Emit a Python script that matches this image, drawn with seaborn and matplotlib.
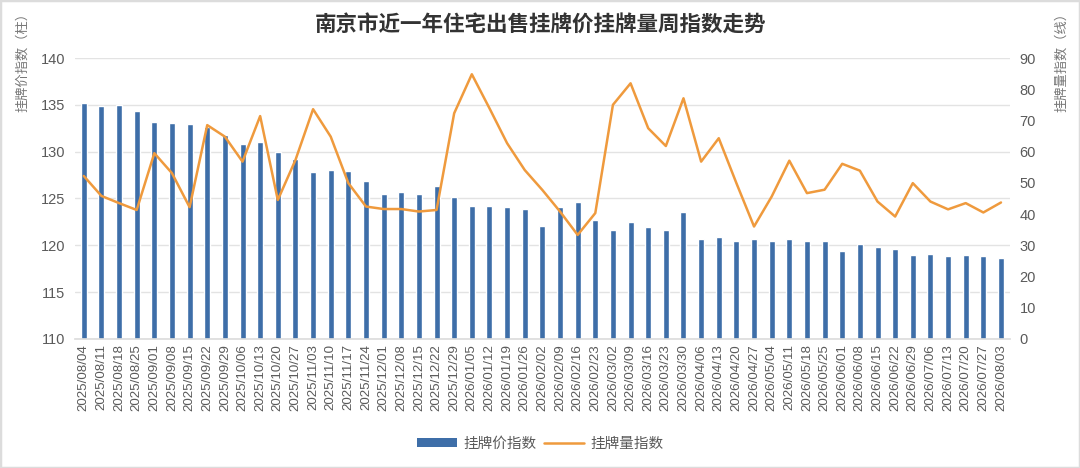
import matplotlib
matplotlib.use("Agg")
import matplotlib.pyplot as plt
import seaborn as sns
import numpy as np
import pandas as pd
from matplotlib.patches import Patch
from matplotlib.lines import Line2D

# weekly dates (x axis)
dates = [
    "2025/08/04", "2025/08/11", "2025/08/18", "2025/08/25", "2025/09/01", "2025/09/08",
    "2025/09/15", "2025/09/22", "2025/09/29", "2025/10/06", "2025/10/13", "2025/10/20",
    "2025/10/27", "2025/11/03", "2025/11/10", "2025/11/17", "2025/11/24", "2025/12/01",
    "2025/12/08", "2025/12/15", "2025/12/22", "2025/12/29", "2026/01/05", "2026/01/12",
    "2026/01/19", "2026/01/26", "2026/02/02", "2026/02/09", "2026/02/16", "2026/02/23",
    "2026/03/02", "2026/03/09", "2026/03/16", "2026/03/23", "2026/03/30", "2026/04/06",
    "2026/04/13", "2026/04/20", "2026/04/27", "2026/05/04", "2026/05/11", "2026/05/18",
    "2026/05/25", "2026/06/01", "2026/06/08", "2026/06/15", "2026/06/22", "2026/06/29",
    "2026/07/06", "2026/07/13", "2026/07/20", "2026/07/27", "2026/08/03",
]

# listing price index (bars, left axis)
price_index = [
    135.2, 134.9, 135.0, 134.3, 133.2, 133.1, 132.9, 132.6, 131.8, 130.8,
    131.0, 130.0, 129.2, 127.8, 128.0, 127.9, 126.9, 125.5, 125.7, 125.5,
    126.3, 125.2, 124.2, 124.2, 124.1, 123.9, 122.1, 124.1, 124.6, 122.7,
    121.6, 122.5, 121.9, 121.6, 123.5, 120.7, 120.9, 120.4, 120.7, 120.4,
    120.7, 120.5, 120.4, 119.4, 120.1, 119.8, 119.6, 119.0, 119.1, 118.9,
    119.0, 118.9, 118.6,
]

# listing volume index (line, right axis)
volume_index = [
    52.2, 45.8, 43.5, 41.3, 59.5, 53.1, 42.2, 68.5, 64.8, 56.8,
    71.4, 44.5, 57.3, 73.6, 64.8, 49.9, 42.4, 41.6, 41.6, 40.8,
    41.3, 72.3, 84.8, 73.9, 62.7, 54.1, 47.7, 40.8, 33.3, 40.3,
    75.0, 81.9, 67.5, 61.8, 77.1, 56.8, 64.3, 49.9, 36.0, 45.6,
    57.1, 46.7, 47.8, 56.1, 53.9, 44.0, 39.2, 49.9, 44.0, 41.5,
    43.5, 40.5, 43.7,
]

bar_color = "#3e6ea8"
line_color = "#ef9a3d"
text_color = "#5a5a5a"

sns.set_theme(style="white")
plt.rcParams["font.family"] = ["Liberation Sans", "Noto Sans CJK SC", "DejaVu Sans"]

df = pd.DataFrame({"date": dates, "price": price_index, "volume": volume_index})
df["pos"] = np.arange(len(df))

fig = plt.figure(figsize=(10.8, 4.68), dpi=100)
ax = fig.add_axes([0.0694, 0.276, 0.8656, 0.6])

sns.barplot(data=df, x="date", y="price", color=bar_color, width=0.34,
            saturation=1, ax=ax, zorder=2)
ax.set_ylim(110, 140)
ax.set_yticks(np.arange(110, 141, 5))
ax.set_xlim(-0.5, len(df) - 0.5)
ax.grid(axis="y", color="#e3e3e3", linewidth=1, zorder=0)
ax.set_axisbelow(True)
ax.set_xlabel("")
ax.set_ylabel("")
ax.tick_params(axis="x", labelrotation=90, labelsize=9.6, colors=text_color, length=0, pad=4)
ax.tick_params(axis="y", labelsize=10.5, colors=text_color, length=0, pad=7)
for s in ["top", "right", "left"]:
    ax.spines[s].set_visible(False)
ax.spines["bottom"].set_color("#dddddd")

ax2 = ax.twinx()
sns.lineplot(data=df, x="pos", y="volume", color=line_color, linewidth=1.8, ax=ax2)
ax2.set_ylim(0, 90)
ax2.set_yticks(np.arange(0, 91, 10))
ax2.set_ylabel("")
ax2.set_xlabel("")
ax2.tick_params(axis="y", labelsize=10.5, colors=text_color, length=0, pad=7)
for s in ["top", "right", "left", "bottom"]:
    ax2.spines[s].set_visible(False)
ax2.grid(False)

fig.text(0.5, 0.947, "南京市近一年住宅出售挂牌价挂牌量周指数走势", ha="center", va="center",
         fontsize=15.5, fontweight="bold", color="#333333")
fig.text(0.021, 0.875, "挂牌价指数（柱）", rotation=90, ha="center", va="center",
         fontsize=9.5, color="#777777")
fig.text(0.983, 0.875, "挂牌量指数（线）", rotation=90, ha="center", va="center",
         fontsize=9.5, color="#777777")

handles = [Patch(facecolor=bar_color, edgecolor="none"),
           Line2D([0], [0], color=line_color, linewidth=1.8)]
fig.legend(handles, ["挂牌价指数", "挂牌量指数"], loc="center", bbox_to_anchor=(0.5, 0.052),
           ncol=2, frameon=False, fontsize=10.5, labelcolor=text_color,
           handlelength=2.8, handleheight=0.6, columnspacing=0.5, handletextpad=0.4)

fig.add_artist(plt.Rectangle((0, 0), 1, 1, transform=fig.transFigure, fill=False,
                             edgecolor="#dcdcdc", linewidth=2.5))

fig.savefig("out.png", dpi=100)
